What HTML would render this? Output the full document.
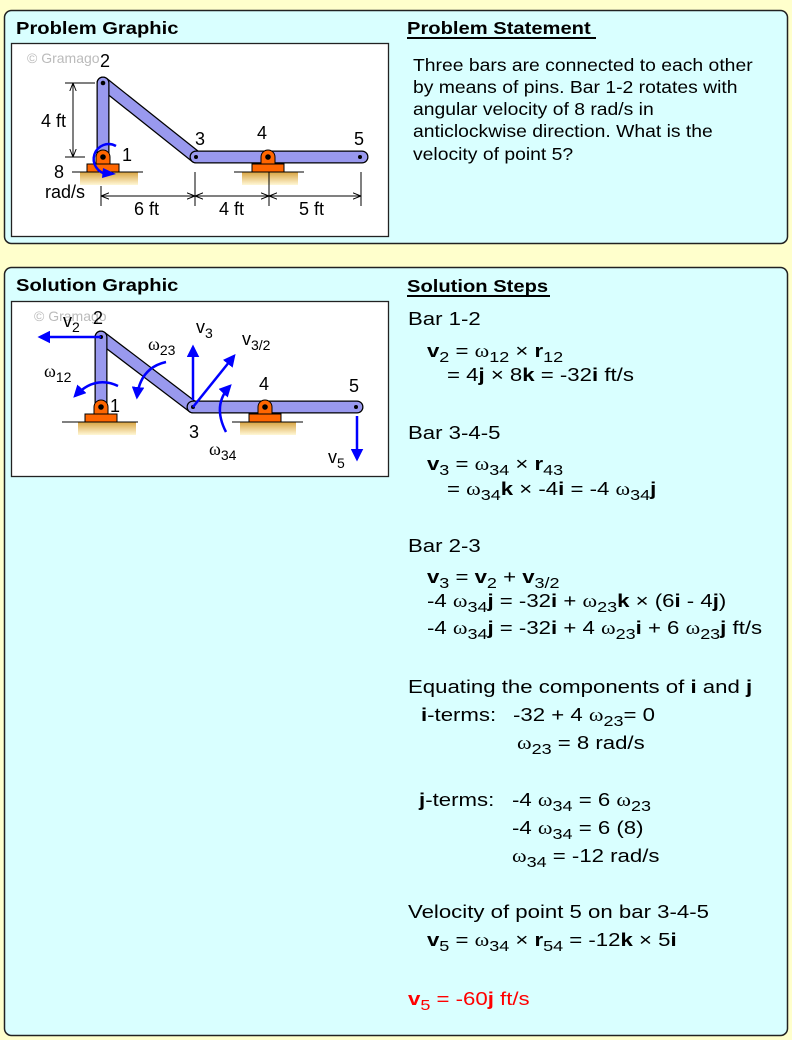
<!DOCTYPE html>
<html><head><meta charset="utf-8"><style>
html,body{margin:0;padding:0;background:#ffffcc;}
svg{display:block;}
text{font-family:"Liberation Sans",Arial,sans-serif;font-size:18px;fill:#000;}
.b{font-weight:bold;}
.w{font-family:"Liberation Serif",serif;}
.s{font-size:14px;}
.st text{font-size:18.5px;}
.st .s{font-size:15px;}
</style></head><body>
<svg width="792" height="1040" viewBox="0 0 792 1040" xmlns="http://www.w3.org/2000/svg">
<defs>
<linearGradient id="gr" x1="0" y1="0" x2="0" y2="1"><stop offset="0" stop-color="#d9a441"/><stop offset="1" stop-color="#fff7d6"/></linearGradient>
<marker id="ah" viewBox="0 0 10 10" refX="8" refY="5" markerWidth="5" markerHeight="5" orient="auto"><path d="M0,0 L10,5 L0,10 z" fill="#0000ff"/></marker>
<marker id="dk" viewBox="0 0 10 10" refX="10" refY="5" markerWidth="8" markerHeight="8" orient="auto" markerUnits="userSpaceOnUse"><path d="M0,1 L10,5 L0,9" fill="none" stroke="#000" stroke-width="1.2"/></marker>
</defs>
<rect width="792" height="1040" fill="#ffffcc"/>
<rect x="4.5" y="10.5" width="783" height="233" rx="7" fill="#d9ffff" stroke="#222" stroke-width="1.5"/>
<rect x="4.5" y="267.5" width="783" height="768" rx="7" fill="#d9ffff" stroke="#222" stroke-width="1.5"/>
<text x="16" y="34" class="b" transform="translate(16,0) scale(1.12,1) translate(-16,0)">Problem Graphic</text>
<text x="16" y="291" class="b" transform="translate(16,0) scale(1.12,1) translate(-16,0)">Solution Graphic</text>
<text x="407" y="34" class="b" transform="translate(407,0) scale(1.12,1) translate(-407,0)">Problem Statement</text>
<line x1="407" y1="38" x2="596" y2="38" stroke="#000" stroke-width="2"/>
<text x="407" y="292" class="b" transform="translate(407,0) scale(1.12,1) translate(-407,0)">Solution Steps</text>
<line x1="407" y1="296" x2="550" y2="296" stroke="#000" stroke-width="2"/>
<g transform="translate(413,0) scale(1.075,1) translate(-413,0)">
<text x="413" y="71">Three bars are connected to each other</text>
<text x="413" y="93">by means of pins. Bar 1-2 rotates with</text>
<text x="413" y="115">angular velocity of 8 rad/s in</text>
<text x="413" y="137">anticlockwise direction. What is the</text>
<text x="413" y="160">velocity of point 5?</text>
</g>

<!-- Problem graphic -->
<rect x="11.5" y="43.5" width="377" height="193" fill="#fff" stroke="#222" stroke-width="1.3"/>
<text x="27" y="63" style="font-size:14px;fill:#bbb">© Gramago</text>
<rect x="80" y="172" width="58" height="13" fill="url(#gr)"/>
<line x1="72" y1="172" x2="143" y2="172" stroke="#000"/>
<rect x="242" y="172" width="56" height="13" fill="url(#gr)"/>
<line x1="234" y1="172" x2="304" y2="172" stroke="#000"/>
<path d="M103,83 L196,157" stroke="#000" stroke-width="13" stroke-linecap="round"/>
<path d="M103,83 L196,157" stroke="#9999ee" stroke-width="10.5" stroke-linecap="round"/>
<path d="M103,83 L103,157" stroke="#000" stroke-width="13" stroke-linecap="round"/>
<path d="M103,83 L103,157" stroke="#9999ee" stroke-width="10.5" stroke-linecap="round"/>
<path d="M196,157 L362,157" stroke="#000" stroke-width="13" stroke-linecap="round"/>
<path d="M196,157 L362,157" stroke="#9999ee" stroke-width="10.5" stroke-linecap="round"/>
<g stroke="#000" stroke-width="1" fill="#ff6600">
<rect x="87" y="164" width="32" height="8"/><path d="M96,164 V157 A7,7 0 0 1 110,157 V164 Z"/>
<rect x="252" y="164" width="32" height="8"/><path d="M261,164 V157 A7,7 0 0 1 275,157 V164 Z"/>
</g>
<g fill="#000"><circle cx="103" cy="83" r="2.3"/><circle cx="103" cy="157" r="2.8"/><circle cx="196" cy="157" r="2"/><circle cx="268" cy="157" r="2.8"/><circle cx="360" cy="157" r="2"/></g>
<path d="M116,146 A15,15 0 1 0 107,174" fill="none" stroke="#0000ff" stroke-width="2.5"/>
<path d="M103,168 L116,174 L102,178 z" fill="#0000ff"/>
<text x="100" y="67">2</text><text x="122" y="161">1</text><text x="195" y="145">3</text><text x="257" y="139">4</text><text x="354" y="145">5</text>
<text x="54" y="178">8</text><text x="45" y="198">rad/s</text>
<g stroke="#000" stroke-width="1">
<line x1="65" y1="83" x2="95" y2="83"/><line x1="65" y1="157" x2="85" y2="157"/>
<line x1="73" y1="120" x2="73" y2="83" marker-end="url(#dk)"/><line x1="73" y1="120" x2="73" y2="157" marker-end="url(#dk)"/>
<line x1="101" y1="186" x2="101" y2="206"/><line x1="195" y1="172" x2="195" y2="206"/><line x1="269" y1="172" x2="269" y2="206"/><line x1="361" y1="172" x2="361" y2="206"/>
<line x1="148" y1="196" x2="101" y2="196" marker-end="url(#dk)"/><line x1="148" y1="196" x2="195" y2="196" marker-end="url(#dk)"/>
<line x1="232" y1="196" x2="195" y2="196" marker-end="url(#dk)"/><line x1="232" y1="196" x2="269" y2="196" marker-end="url(#dk)"/>
<line x1="315" y1="196" x2="269" y2="196" marker-end="url(#dk)"/><line x1="315" y1="196" x2="361" y2="196" marker-end="url(#dk)"/>
</g>
<rect x="40" y="110" width="30" height="20" fill="#fff"/>
<text x="41" y="127">4 ft</text>
<text x="134" y="215">6 ft</text>
<text x="219" y="215">4 ft</text>
<text x="299" y="215">5 ft</text>

<!-- Solution graphic -->
<rect x="11.5" y="301.5" width="377" height="175" fill="#fff" stroke="#222" stroke-width="1.3"/>
<text x="34" y="321" style="font-size:14px;fill:#bbb">© Gramago</text>
<rect x="78" y="422" width="58" height="13" fill="url(#gr)"/>
<line x1="62" y1="422" x2="138" y2="422" stroke="#000"/>
<rect x="240" y="422" width="56" height="13" fill="url(#gr)"/>
<line x1="232" y1="422" x2="303" y2="422" stroke="#000"/>
<path d="M101,337 L193,407" stroke="#000" stroke-width="13" stroke-linecap="round"/>
<path d="M101,337 L193,407" stroke="#9999ee" stroke-width="10.5" stroke-linecap="round"/>
<path d="M101,337 L101,407" stroke="#000" stroke-width="13" stroke-linecap="round"/>
<path d="M101,337 L101,407" stroke="#9999ee" stroke-width="10.5" stroke-linecap="round"/>
<path d="M193,407 L357,407" stroke="#000" stroke-width="13" stroke-linecap="round"/>
<path d="M193,407 L357,407" stroke="#9999ee" stroke-width="10.5" stroke-linecap="round"/>
<g stroke="#000" stroke-width="1" fill="#ff6600">
<rect x="85" y="414" width="32" height="8"/><path d="M94,414 V407 A7,7 0 0 1 108,407 V414 Z"/>
<rect x="249" y="414" width="32" height="8"/><path d="M258,414 V407 A7,7 0 0 1 272,407 V414 Z"/>
</g>
<g fill="#000"><circle cx="101" cy="337" r="2"/><circle cx="101" cy="407" r="2.8"/><circle cx="193" cy="407" r="2"/><circle cx="265" cy="407" r="2.8"/><circle cx="356" cy="407" r="2"/></g>
<g stroke="#0000ff" stroke-width="2.5" fill="none" marker-end="url(#ah)">
<line x1="101" y1="337" x2="40" y2="337"/>
<path d="M118,386 Q95,375 75,396"/>
<path d="M166,362 Q140,368 137,397"/>
<line x1="193" y1="400" x2="193" y2="347"/>
<line x1="193" y1="407" x2="234" y2="356"/>
<path d="M226,432 Q212,405 230,386"/>
<line x1="357" y1="416" x2="357" y2="459"/>
</g>
<text x="63" y="327">v<tspan dy="5" class="s">2</tspan></text>
<text x="93" y="324">2</text>
<text x="44" y="377"><tspan class="w">ω</tspan><tspan dy="5" class="s">12</tspan></text>
<text x="110" y="412">1</text>
<text x="148" y="350"><tspan class="w">ω</tspan><tspan dy="5" class="s">23</tspan></text>
<text x="196" y="333">v<tspan dy="5" class="s">3</tspan></text>
<text x="242" y="345">v<tspan dy="5" class="s">3/2</tspan></text>
<text x="259" y="390">4</text>
<text x="349" y="392">5</text>
<text x="189" y="438">3</text>
<text x="209" y="455"><tspan class="w">ω</tspan><tspan dy="5" class="s">34</tspan></text>
<text x="328" y="463">v<tspan dy="5" class="s">5</tspan></text>

<!-- Solution steps -->
<g class="st" transform="translate(408,0) scale(1.2,1) translate(-408,0)">
<text x="408" y="325">Bar 1-2</text>
<text x="423.8" y="357"><tspan class="b">v</tspan><tspan dy="5" class="s">2</tspan><tspan dy="-5"> = </tspan><tspan class="w">ω</tspan><tspan dy="5" class="s">12</tspan><tspan dy="-5"> × </tspan><tspan class="b">r</tspan><tspan dy="5" class="s">12</tspan></text>
<text x="440.5" y="381">= 4<tspan class="b">j</tspan> × 8<tspan class="b">k</tspan> = -32<tspan class="b">i</tspan> ft/s</text>
<text x="408" y="439">Bar 3-4-5</text>
<text x="423.8" y="470"><tspan class="b">v</tspan><tspan dy="5" class="s">3</tspan><tspan dy="-5"> = </tspan><tspan class="w">ω</tspan><tspan dy="5" class="s">34</tspan><tspan dy="-5"> × </tspan><tspan class="b">r</tspan><tspan dy="5" class="s">43</tspan></text>
<text x="440.5" y="495">= <tspan class="w">ω</tspan><tspan dy="5" class="s">34</tspan><tspan dy="-5" class="b">k</tspan> × -4<tspan class="b">i</tspan> = -4 <tspan class="w">ω</tspan><tspan dy="5" class="s">34</tspan><tspan dy="-5" class="b">j</tspan></text>
<text x="408" y="552">Bar 2-3</text>
<text x="423.8" y="583"><tspan class="b">v</tspan><tspan dy="5" class="s">3</tspan><tspan dy="-5"> = </tspan><tspan class="b">v</tspan><tspan dy="5" class="s">2</tspan><tspan dy="-5"> + </tspan><tspan class="b">v</tspan><tspan dy="5" class="s">3/2</tspan></text>
<text x="423.8" y="607">-4 <tspan class="w">ω</tspan><tspan dy="5" class="s">34</tspan><tspan dy="-5" class="b">j</tspan> = -32<tspan class="b">i</tspan> + <tspan class="w">ω</tspan><tspan dy="5" class="s">23</tspan><tspan dy="-5" class="b">k</tspan> × (6<tspan class="b">i</tspan> - 4<tspan class="b">j</tspan>)</text>
<text x="423.8" y="634">-4 <tspan class="w">ω</tspan><tspan dy="5" class="s">34</tspan><tspan dy="-5" class="b">j</tspan> = -32<tspan class="b">i</tspan> + 4 <tspan class="w">ω</tspan><tspan dy="5" class="s">23</tspan><tspan dy="-5" class="b">i</tspan> + 6 <tspan class="w">ω</tspan><tspan dy="5" class="s">23</tspan><tspan dy="-5" class="b">j</tspan> ft/s</text>
<text x="408" y="693">Equating the components of <tspan class="b">i</tspan> and <tspan class="b">j</tspan></text>
<text x="418.8" y="721"><tspan class="b">i</tspan>-terms:</text>
<text x="495.5" y="721">-32 + 4 <tspan class="w">ω</tspan><tspan dy="5" class="s">23</tspan><tspan dy="-5">= 0</tspan></text>
<text x="498.8" y="749"><tspan class="w">ω</tspan><tspan dy="5" class="s">23</tspan><tspan dy="-5"> = 8 rad/s</tspan></text>
<text x="417.2" y="806"><tspan class="b">j</tspan>-terms:</text>
<text x="494.7" y="806">-4 <tspan class="w">ω</tspan><tspan dy="5" class="s">34</tspan><tspan dy="-5"> = 6 </tspan><tspan class="w">ω</tspan><tspan dy="5" class="s">23</tspan></text>
<text x="494.7" y="834">-4 <tspan class="w">ω</tspan><tspan dy="5" class="s">34</tspan><tspan dy="-5"> = 6 (8)</tspan></text>
<text x="494.7" y="862"><tspan class="w">ω</tspan><tspan dy="5" class="s">34</tspan><tspan dy="-5"> = -12 rad/s</tspan></text>
<text x="408" y="918">Velocity of point 5 on bar 3-4-5</text>
<text x="423.8" y="946"><tspan class="b">v</tspan><tspan dy="5" class="s">5</tspan><tspan dy="-5"> = </tspan><tspan class="w">ω</tspan><tspan dy="5" class="s">34</tspan><tspan dy="-5"> × </tspan><tspan class="b">r</tspan><tspan dy="5" class="s">54</tspan><tspan dy="-5"> = -12</tspan><tspan class="b">k</tspan> × 5<tspan class="b">i</tspan></text>
<text x="408" y="1005" style="fill:#ff0000"><tspan class="b" style="fill:#ff0000">v</tspan><tspan dy="5" class="s" style="fill:#ff0000">5</tspan><tspan dy="-5" style="fill:#ff0000"> = -60</tspan><tspan class="b" style="fill:#ff0000">j</tspan><tspan style="fill:#ff0000"> ft/s</tspan></text>
</g>
</svg>
</body></html>
